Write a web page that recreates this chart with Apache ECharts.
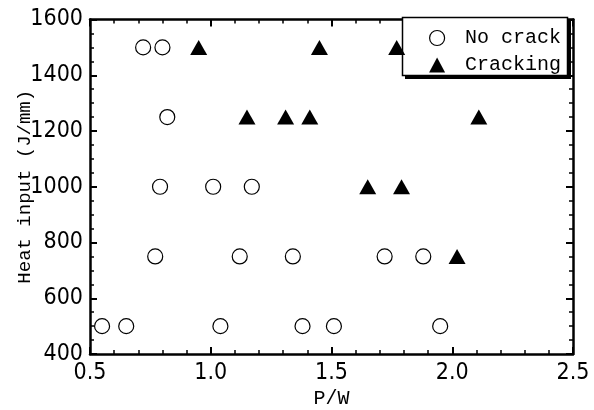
<!DOCTYPE html>
<html><head><meta charset="utf-8">
<script src="https://cdn.jsdelivr.net/npm/echarts@6/dist/echarts.min.js"></script>
<style>html,body{margin:0;padding:0;background:#fff}#c{width:594px;height:410px}</style>
</head><body><div id="c"></div>
<script>
// No crack (open circles): [P/W, heat input]
const noCrackPW   = [0.72, 0.80, 0.82, 0.79, 1.01, 1.17, 0.77, 1.12, 1.34, 1.72, 1.88, 0.55, 0.65, 1.04, 1.38, 1.51, 1.95];
const noCrackHeat = [1500, 1500, 1250, 1000, 1000, 1000, 750, 750, 750, 750, 750, 500, 500, 500, 500, 500, 500];
// Cracking (filled triangles)
const crackPW   = [0.95, 1.45, 1.77, 1.15, 1.31, 1.41, 2.11, 1.65, 1.79, 2.02];
const crackHeat = [1500, 1500, 1500, 1250, 1250, 1250, 1250, 1000, 1000, 750];
const xTicks = [0.5, 1.0, 1.5, 2.0, 2.5];
const yTicks = [400, 600, 800, 1000, 1200, 1400, 1600];

const mono = 'Liberation Mono';
const cond = 'DejaVu Sans Condensed';
const chart = echarts.init(document.getElementById('c'), null, {renderer: 'canvas'});
const axisLine = {show: true, onZero: false, lineStyle: {color: '#000', width: 2.5}};
const xBase = {
  type: 'value', min: xTicks[0], max: xTicks[xTicks.length - 1], interval: 0.5,
  axisLine: axisLine,
  axisTick: {show: true, inside: true, length: 7, lineStyle: {color: '#000', width: 2}},
  minorTick: {show: true, splitNumber: 5, length: 4, lineStyle: {color: '#000', width: 1.5}},
  splitLine: {show: false}
};
const yBase = {
  type: 'value', min: yTicks[0], max: yTicks[yTicks.length - 1], interval: 200,
  axisLine: axisLine,
  axisTick: {show: true, inside: true, length: 7, lineStyle: {color: '#000', width: 2}},
  minorTick: {show: true, splitNumber: 4, length: 4, lineStyle: {color: '#000', width: 1.5}},
  splitLine: {show: false}
};
chart.setOption({
  backgroundColor: '#fff',
  animation: false,
  grid: {left: 90, right: 21, top: 19.5, bottom: 56, containLabel: false, outerBoundsMode: 'none'},
  graphic: [
    {type: 'rect', z: 1, shape: {x: 405, y: 21, width: 166, height: 58}, style: {fill: '#000'}},
    {type: 'rect', z: 2, shape: {x: 402.5, y: 17.5, width: 165, height: 58},
      style: {fill: '#fff', stroke: '#000', lineWidth: 1.5}}
  ],
  xAxis: [
    Object.assign({}, xBase, {
      position: 'bottom', name: 'P/W', nameLocation: 'middle', nameGap: 35, nameMoveOverlap: false,
      nameTextStyle: {fontFamily: mono, fontSize: 20, color: '#000'},
      axisLabel: {fontFamily: cond, fontSize: 23, color: '#000', margin: 8,
        formatter: v => v.toFixed(1)}
    }),
    Object.assign({}, xBase, {position: 'top', axisLabel: {show: false}})
  ],
  yAxis: [
    Object.assign({}, yBase, {
      position: 'left', name: 'Heat input (J/mm)', nameLocation: 'middle', nameGap: 56, nameMoveOverlap: false,
      nameTextStyle: {fontFamily: mono, fontSize: 19, color: '#000'},
      axisLabel: {fontFamily: cond, fontSize: 23, color: '#000', margin: 7,
        formatter: v => String(v)}
    }),
    Object.assign({}, yBase, {position: 'right', axisLabel: {show: false}})
  ],
  legend: {
    orient: 'vertical', left: 403, top: 17, z: 10,
    padding: [11, 10, 8, 26], itemGap: 7, itemWidth: 16, itemHeight: 15,
    textStyle: {fontFamily: mono, fontSize: 20, color: '#000', padding: [0, 0, 0, 15]},
    data: [
      {name: 'No crack', icon: 'circle', itemStyle: {color: '#fff', borderColor: '#000', borderWidth: 1.2}},
      {name: 'Cracking', icon: 'triangle', itemStyle: {color: '#000'}}
    ]
  },
  series: [
    {
      name: 'No crack', type: 'scatter', symbol: 'circle', symbolSize: 15,
      itemStyle: {color: '#fff', borderColor: '#000', borderWidth: 1.2, opacity: 1},
      data: noCrackPW.map((x, i) => [x, noCrackHeat[i]]), z: 3
    },
    {
      name: 'Cracking', type: 'scatter', symbol: 'triangle', symbolSize: [17, 15],
      itemStyle: {color: '#000', opacity: 1},
      data: crackPW.map((x, i) => [x, crackHeat[i]]), z: 3
    }
  ]
});
</script></body></html>
